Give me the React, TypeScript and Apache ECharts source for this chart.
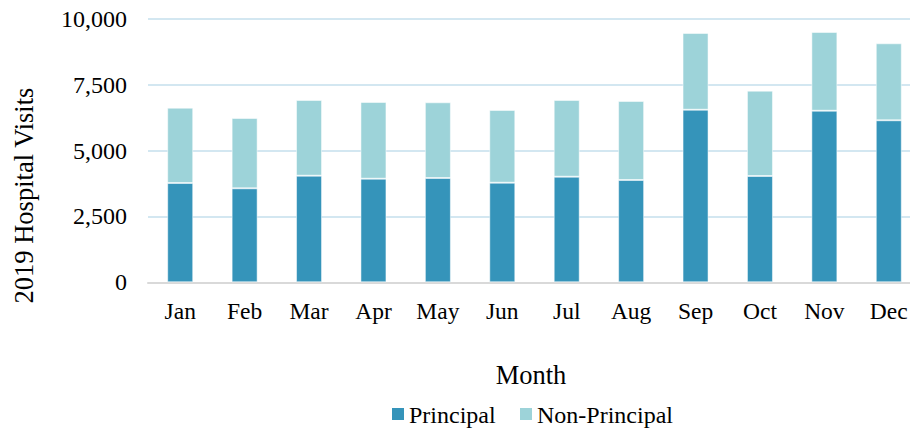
import React, { useEffect, useRef } from "react";
import * as echarts from "echarts";

const months = ["Jan", "Feb", "Mar", "Apr", "May", "Jun", "Jul", "Aug", "Sep", "Oct", "Nov", "Dec"];
const principal = [3771, 3570, 4049, 3935, 3961, 3783, 4011, 3885, 6555, 4037, 6517, 6153];
const nonPrincipal = [2860, 2670, 2875, 2913, 2875, 2761, 2913, 3001, 2914, 3240, 2990, 2924];
const yTicks = [0, 2500, 5000, 7500, 10000];
const seriesNames = ["Principal", "Non-Principal"];
const colors = ["#3594ba", "#9dd3d9"];
const xTitle = "Month";
const yTitle = "2019 Hospital Visits";

const FONT = "Liberation Serif";
const TITLE_FONT = "26.5px 'Liberation Serif'";
const LEGEND_FONT = "24px 'Liberation Serif'";

export default function App() {
  const ref = useRef<HTMLDivElement>(null);
  useEffect(() => {
    if (!ref.current) return;
    const chart = echarts.init(ref.current, undefined, { renderer: "svg" });
    const legendX = [392, 520];
    chart.setOption({
      animation: false,
      backgroundColor: "#ffffff",
      textStyle: { fontFamily: FONT, fontSize: 24, color: "#000" },
      grid: { left: 148, top: 19, width: 773, height: 263.3, outerBoundsMode: "none", containLabel: false },
      graphic: [
        {
          type: "text",
          x: 531,
          y: 375,
          style: { text: xTitle, font: TITLE_FONT, fill: "#000", textAlign: "center", textVerticalAlign: "middle" },
        },
        {
          type: "text",
          x: 24,
          y: 195.5,
          rotation: Math.PI / 2,
          style: { text: yTitle, font: TITLE_FONT, fill: "#000", textAlign: "center", textVerticalAlign: "middle" },
        },
        ...seriesNames.flatMap((n, i) => [
          { type: "rect", shape: { x: legendX[i], y: 408, width: 12, height: 12 }, style: { fill: colors[i] } },
          {
            type: "text",
            x: legendX[i] + 17,
            y: 415,
            style: { text: n, font: LEGEND_FONT, fill: "#000", textAlign: "left", textVerticalAlign: "middle" },
          },
        ]),
      ],
      xAxis: {
        type: "category",
        data: months,
        axisLine: { lineStyle: { color: "#d9d9d9", width: 2 } },
        axisTick: { show: false },
        axisLabel: { fontFamily: FONT, fontSize: 23.5, color: "#000", margin: 17 },
      },
      yAxis: {
        type: "value",
        min: yTicks[0],
        max: yTicks[yTicks.length - 1],
        interval: 2500,
        axisLine: { show: false },
        axisTick: { show: false },
        axisLabel: {
          fontFamily: FONT,
          fontSize: 24,
          color: "#000",
          margin: 21,
          formatter: (v: number) => v.toLocaleString("en-US"),
        },
        splitLine: { lineStyle: { color: "#d3e7f1", width: 2 } },
      },
      series: [
        {
          name: seriesNames[0],
          type: "bar",
          stack: "total",
          barWidth: 26,
          data: principal,
          itemStyle: { color: colors[0], borderColor: "rgba(255,255,255,0.5)", borderWidth: 1 },
        },
        {
          name: seriesNames[1],
          type: "bar",
          stack: "total",
          barWidth: 26,
          data: nonPrincipal,
          itemStyle: { color: colors[1], borderColor: "rgba(255,255,255,0.5)", borderWidth: 1 },
        },
      ],
    });
    return () => chart.dispose();
  }, []);
  return (
    <div style={{ position: "fixed", left: 0, top: 0, width: 910, height: 429, overflow: "hidden", background: "#fff" }}>
      <div ref={ref} style={{ width: 922, height: 429 }} />
    </div>
  );
}
